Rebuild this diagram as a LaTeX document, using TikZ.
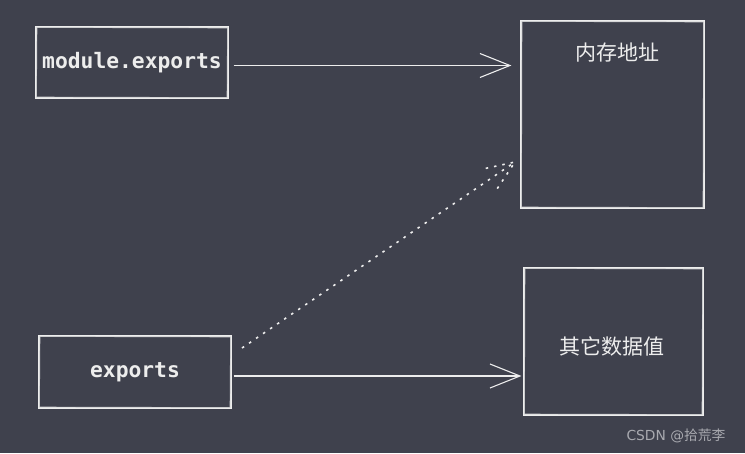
\documentclass[tikz,border=0pt]{standalone}
\usepackage{fontspec}
\setmainfont{DejaVu Sans}
\newfontfamily\cjk{Noto Sans CJK SC}
\newfontfamily\codefont{DejaVu Sans Mono}
\usetikzlibrary{arrows.meta,calc}
\definecolor{bg}{HTML}{3F414D}
\definecolor{ink}{HTML}{EDEDED}
\definecolor{wm}{HTML}{A9AAB0}
\tikzset{
  box/.style={draw=ink, line width=1.1pt, inner sep=0pt},
  sk/.style={draw=ink!80!bg, line width=0.7pt},
  arr/.style={draw=ink, line width=1.1pt, -{Straight Barb[length=30pt,width=24pt,line width=1.1pt]}},
  dotline/.style={draw=ink, line width=1.6pt, dash pattern=on 2.5pt off 6pt},
  code/.style={text=ink, font=\codefont\bfseries\fontsize{21.3}{24}\selectfont},
  zh/.style={text=ink, font=\cjk\fontsize{21}{24}\selectfont},
}
\begin{document}
\begin{tikzpicture}[x=1pt,y=-1pt]
\fill[bg] (0,0) rectangle (745,453);
\useasboundingbox (0,0) rectangle (745,453);

\node[box, minimum width=192pt, minimum height=71pt] (mod) at (132,62.5) {};
\node[box, minimum width=183pt, minimum height=187pt] (mem) at (612.5,114.5) {};
\node[box, minimum width=192pt, minimum height=72pt] (exp) at (135,372) {};
\node[box, minimum width=179pt, minimum height=147pt] (oth) at (613.5,341.5) {};

\draw[sk] ([shift={(1.5pt,-1pt)}]mod.north west) -- ([shift={(-1pt,-1.5pt)}]mod.north east) -- ([shift={(-1.5pt,1pt)}]mod.south east) -- ([shift={(1pt,1.5pt)}]mod.south west) -- cycle;
\draw[sk] ([shift={(1.5pt,-1pt)}]mem.north west) -- ([shift={(-1pt,-1.5pt)}]mem.north east) -- ([shift={(-1.5pt,1pt)}]mem.south east) -- ([shift={(1pt,1.5pt)}]mem.south west) -- cycle;
\draw[sk] ([shift={(1.5pt,-1pt)}]exp.north west) -- ([shift={(-1pt,-1.5pt)}]exp.north east) -- ([shift={(-1.5pt,1pt)}]exp.south east) -- ([shift={(1pt,1.5pt)}]exp.south west) -- cycle;
\draw[sk] ([shift={(1.5pt,-1pt)}]oth.north west) -- ([shift={(-1pt,-1.5pt)}]oth.north east) -- ([shift={(-1.5pt,1pt)}]oth.south east) -- ([shift={(1pt,1.5pt)}]oth.south west) -- cycle;

\node[code] (modt) at (mod.center) {module.exports};
\node[code] (expt) at (exp.center) {exports};
\node[zh] (memt) at (617,53) {内存地址};
\node[zh] (otht) at (612,346) {其它数据值};

\coordinate (a1s) at ($(mod.east)+(5pt,-3pt)$);
\coordinate (a1e) at ($(mem.west |- a1s)+(-9pt,0)$);
\draw[arr] (a1s) -- (a1e);

\coordinate (a2s) at ($(exp.east)+(2pt,-4pt)$);
\coordinate (a2e) at ($(oth.west |- a2s)+(-2pt,0)$);
\draw[arr] (a2s) -- (a2e);

\coordinate (d1s) at (242,348);
\coordinate (d1e) at (515,162);
\draw[dotline] (d1s) -- (d1e);
\draw[dotline] ($(d1e)!32pt!22:(d1s)$) -- (d1e) -- ($(d1e)!32pt!-22:(d1s)$);

\node[text=wm, font=\fontsize{13.8}{16}\selectfont, anchor=east] (wmk) at (729,436) {CSDN @{\cjk 拾荒李}};
\end{tikzpicture}
\end{document}
